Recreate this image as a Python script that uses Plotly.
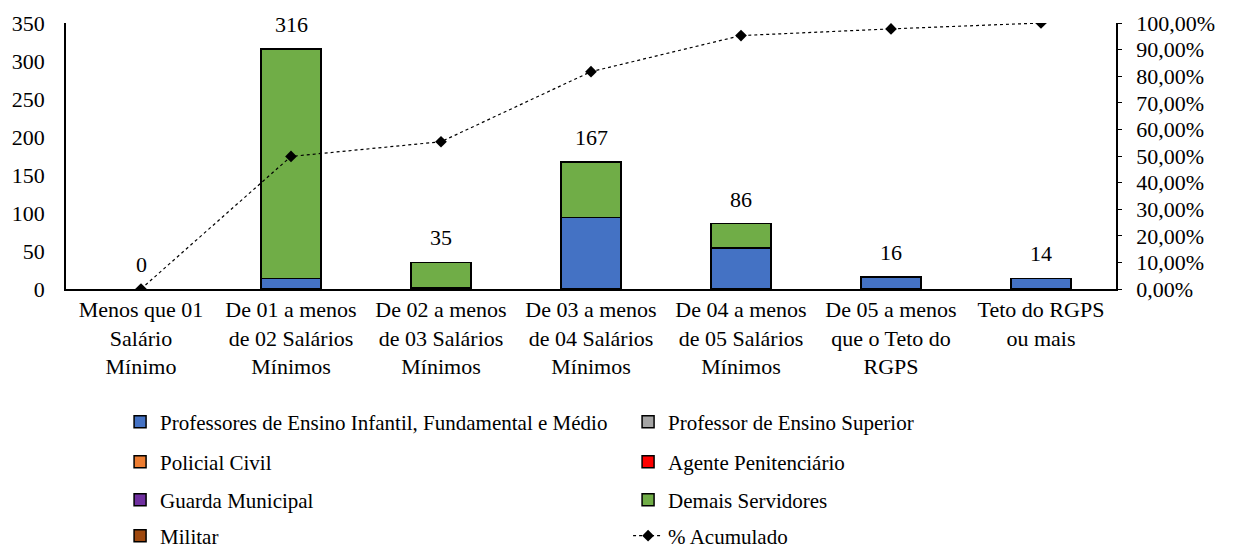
import plotly.graph_objects as go

categories = [
    "Menos que 01<br>Salário<br>Mínimo",
    "De 01 a menos<br>de 02 Salários<br>Mínimos",
    "De 02 a menos<br>de 03 Salários<br>Mínimos",
    "De 03 a menos<br>de 04 Salários<br>Mínimos",
    "De 04 a menos<br>de 05 Salários<br>Mínimos",
    "De 05 a menos<br>que o Teto do<br>RGPS",
    "Teto do RGPS<br>ou mais",
]

professores_basico = [0, 14, 2, 94, 54, 15, 14]
professor_superior = [0, 0, 0, 0, 0, 0, 0]
policial_civil = [0, 0, 0, 0, 0, 0, 0]
agente_penitenciario = [0, 0, 0, 0, 0, 0, 0]
guarda_municipal = [0, 0, 0, 0, 0, 0, 0]
demais_servidores = [0, 302, 33, 73, 32, 1, 0]
militar = [0, 0, 0, 0, 0, 0, 0]
totais = [0, 316, 35, 167, 86, 16, 14]
acumulado = [0.0, 0.4984, 0.5536, 0.8170, 0.9527, 0.9779, 1.0]

FONT = "Liberation Serif"
FS = 22
series = [
    ("Professores de Ensino Infantil, Fundamental e Médio", professores_basico, "#4472C4", "legend"),
    ("Professor de Ensino Superior", professor_superior, "#A5A5A5", "legend"),
    ("Policial Civil", policial_civil, "#ED7D31", "legend2"),
    ("Agente Penitenciário", agente_penitenciario, "#FF0000", "legend2"),
    ("Guarda Municipal", guarda_municipal, "#7030A0", "legend3"),
    ("Demais Servidores", demais_servidores, "#70AD47", "legend3"),
    ("Militar", militar, "#9E480E", "legend4"),
]

fig = go.Figure()
for name, vals, color, lg in series:
    fig.add_trace(go.Bar(
        x=categories, y=[v if v else None for v in vals], name=name,
        marker=dict(color=color, line=dict(color="black", width=1.5)),
        legend=lg, hoverinfo="skip",
    ))

fig.add_trace(go.Scatter(
    x=categories, y=acumulado, name="% Acumulado", yaxis="y2",
    mode="lines+markers",
    line=dict(color="black", width=1.2, dash="dot"),
    marker=dict(symbol="diamond", size=9, color="black"),
    legend="legend4",
))

for c, t in zip(categories, totais):
    fig.add_annotation(x=c, y=t, text=str(t), showarrow=False,
                       yanchor="bottom", yshift=10,
                       font=dict(family=FONT, size=FS, color="black"))

legend_common = dict(orientation="h", xanchor="left", yanchor="middle",
                     x=0.0515, entrywidth=463, entrywidthmode="pixels",
                     traceorder="normal", bgcolor="rgba(0,0,0,0)",
                     font=dict(family=FONT, size=21, color="black"))
rows_px = [422, 462, 500, 536]
def ypaper(py):
    return (289 - py) / 266.0

fig.update_layout(
    width=1226, height=543,
    margin=dict(l=58, r=118, t=15, b=262, autoexpand=False),
    plot_bgcolor="white", paper_bgcolor="white",
    barmode="stack", bargap=0.6,
    separators=",.",
    font=dict(family=FONT, size=FS, color="black"),
    xaxis=dict(showline=True, linecolor="black", linewidth=1.5,
               ticks="", showgrid=False, tickfont=dict(family=FONT, size=FS),
               automargin=False),
    yaxis=dict(range=[0, 350], dtick=50, showline=True, linecolor="black",
               linewidth=1.5, ticks="", showgrid=False, zeroline=False,
               ticklabelstandoff=15, automargin=False,
               tickfont=dict(family=FONT, size=FS)),
    yaxis2=dict(range=[0, 1], dtick=0.1, tickformat=".2%", overlaying="y",
                side="right", showline=True, linecolor="black", linewidth=1.5,
                ticks="outside", ticklen=4, tickcolor="black",
                ticklabelstandoff=10,
                showgrid=False, zeroline=False, automargin=False,
                tickfont=dict(family=FONT, size=FS)),
    legend=dict(legend_common, y=ypaper(rows_px[0])),
    legend2=dict(legend_common, y=ypaper(rows_px[1])),
    legend3=dict(legend_common, y=ypaper(rows_px[2])),
    legend4=dict(legend_common, y=ypaper(rows_px[3])),
)

fig.write_html("out.html")
